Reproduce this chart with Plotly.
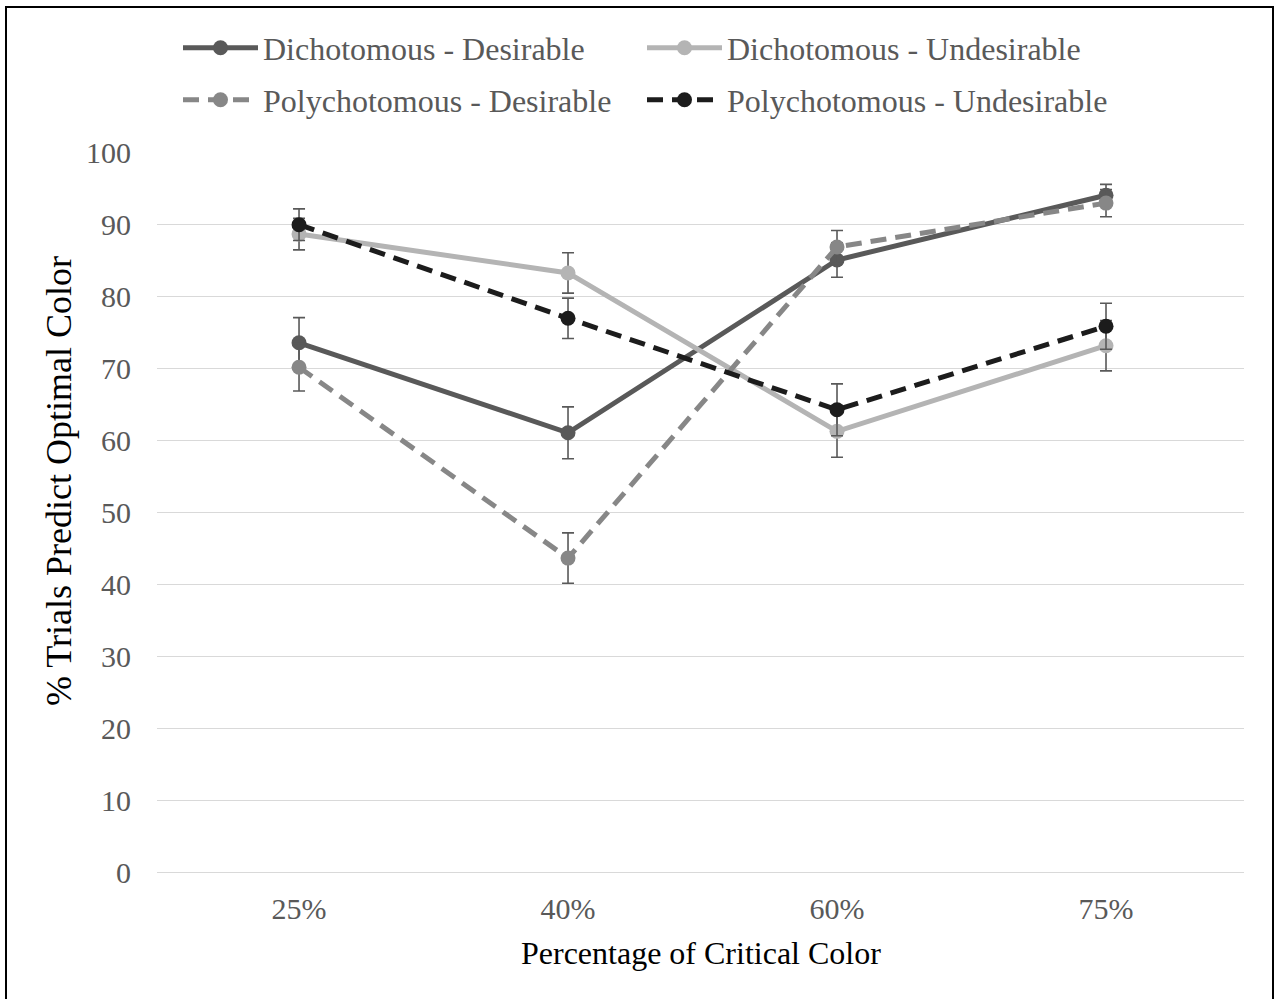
import plotly.graph_objects as go

categories = ["25%", "40%", "60%", "75%"]

dd_vals = [73.5, 61.0, 85.0, 94.0]
du_vals = [88.6, 83.2, 61.2, 73.1]
pd_vals = [70.1, 43.6, 86.8, 92.9]
pu_vals = [89.9, 76.9, 64.2, 75.8]

dd_err = [3.5, 3.6, 2.4, 1.5]
du_err = [2.2, 2.8, 3.6, 3.5]
pd_err = [3.3, 3.5, 2.3, 1.9]
pu_err = [2.2, 2.8, 3.6, 3.2]

series = [
    ("Dichotomous - Desirable", dd_vals, dd_err, "#595959", "solid"),
    ("Dichotomous - Undesirable", du_vals, du_err, "#b4b4b4", "solid"),
    ("Polychotomous - Desirable", pd_vals, pd_err, "#878787", "16px,9px"),
    ("Polychotomous - Undesirable", pu_vals, pu_err, "#1c1c1c", "16px,9px"),
]

W, H = 1279, 999
L, R, T, B = 157, 35, 152, 127
pw = W - L - R
ph = H - T - B

# legend slot positions (pixels): (left x, row centre y)
legend_slots = [(178, 48), (642, 48), (178, 100), (642, 100)]
legend_ids = ["legend", "legend2", "legend3", "legend4"]

fig = go.Figure()
for (name, vals, errs, color, dash), lid in zip(series, legend_ids):
    fig.add_trace(go.Scatter(
        x=list(range(len(categories))), y=vals, name=name, mode="lines+markers",
        legend=lid,
        line=dict(color=color, width=5, dash=dash),
        marker=dict(color=color, size=15),
        error_y=dict(type="data", array=errs, visible=True, color="#595959",
                     thickness=1.6, width=6),
    ))

legend_layout = {}
for lid, (lx, ly) in zip(legend_ids, legend_slots):
    legend_layout[lid] = dict(
        orientation="h", x=(lx - L) / pw, y=1 + (T - ly) / ph,
        xanchor="left", yanchor="middle", itemwidth=75,
        font=dict(family="Liberation Serif", size=32, color="#595959"),
        bgcolor="rgba(0,0,0,0)", borderwidth=0)

fig.update_layout(
    width=W, height=H,
    margin=dict(l=L, r=R, t=T, b=B, autoexpand=False),
    paper_bgcolor="white", plot_bgcolor="white",
    font=dict(family="Liberation Serif", size=30, color="#595959"),
    showlegend=True,
    xaxis=dict(tickmode="array", tickvals=list(range(len(categories))), ticktext=categories,
               range=[-0.528, 3.513], showgrid=False, zeroline=False,
               showline=True, linecolor="#d9d9d9", linewidth=1, ticks="",
               ticklabelstandoff=10,
               tickfont=dict(size=30, color="#595959")),
    yaxis=dict(range=[0, 100], dtick=10, showgrid=True, gridcolor="#d9d9d9", gridwidth=1,
               zeroline=False, showline=False, ticks="", ticklabelstandoff=25,
               tickfont=dict(size=30, color="#595959")),
    **legend_layout,
)

# axis titles
fig.add_annotation(text="Percentage of Critical Color", xref="paper", yref="paper",
                   x=0.5, y=-(953 - (T + ph)) / ph, xanchor="center", yanchor="middle",
                   showarrow=False, font=dict(family="Liberation Serif", size=32, color="black"))
fig.add_annotation(text="% Trials Predict Optimal Color", xref="paper", yref="paper",
                   x=(59 - L) / pw, y=1 - (481 - T) / ph, xanchor="center", yanchor="middle",
                   textangle=-90, showarrow=False,
                   font=dict(family="Liberation Serif", size=36, color="black"))

# outer frame around the whole chart
fig.add_shape(type="rect", xref="paper", yref="paper",
              x0=(6 - L) / pw, x1=(1273 - L) / pw,
              y0=-(1010 - (T + ph)) / ph, y1=1 + (T - 7) / ph,
              line=dict(color="black", width=2), fillcolor="rgba(0,0,0,0)", layer="above")

fig.write_html("out.html", config={"displayModeBar": False},
               post_script="document.body.style.margin='0';")
